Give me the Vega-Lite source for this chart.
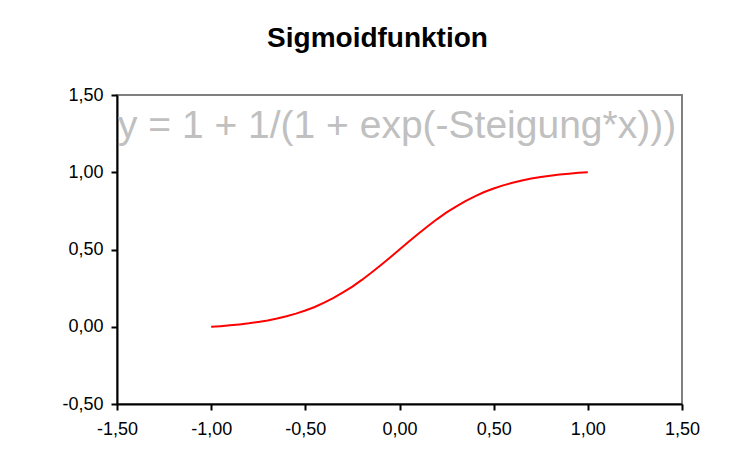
{
  "$schema": "https://vega.github.io/schema/vega-lite/v6.json",
  "width": 565,
  "height": 309,
  "autosize": {"type": "none"},
  "padding": {"left": 117, "top": 95, "right": 58, "bottom": 72},
  "background": "white",
  "config": {
    "locale": {"number": {"decimal": ",", "thousands": ".", "grouping": [3], "currency": ["", " €"], "minus": "-"}},
    "view": {"stroke": "#808080", "strokeWidth": 2},
    "font": "Liberation Sans"
  },
  "title": {
    "text": "Sigmoidfunktion",
    "anchor": "middle",
    "frame": "group",
    "dx": -22,
    "offset": 33,
    "fontSize": 28,
    "fontWeight": "bold",
    "font": "Liberation Sans",
    "color": "black"
  },
  "layer": [
    {
      "data": {"values": [
        {"x": -1.0, "y": 0.0},
        {"x": -0.95, "y": 0.004},
        {"x": -0.9, "y": 0.009},
        {"x": -0.85, "y": 0.015},
        {"x": -0.8, "y": 0.022},
        {"x": -0.75, "y": 0.031},
        {"x": -0.7, "y": 0.041},
        {"x": -0.65, "y": 0.053},
        {"x": -0.6, "y": 0.068},
        {"x": -0.55, "y": 0.085},
        {"x": -0.5, "y": 0.105},
        {"x": -0.45, "y": 0.128},
        {"x": -0.4, "y": 0.156},
        {"x": -0.35, "y": 0.187},
        {"x": -0.3, "y": 0.222},
        {"x": -0.25, "y": 0.260},
        {"x": -0.2, "y": 0.303},
        {"x": -0.15, "y": 0.349},
        {"x": -0.1, "y": 0.398},
        {"x": -0.05, "y": 0.448},
        {"x": 0.0, "y": 0.5},
        {"x": 0.05, "y": 0.552},
        {"x": 0.1, "y": 0.602},
        {"x": 0.15, "y": 0.651},
        {"x": 0.2, "y": 0.697},
        {"x": 0.25, "y": 0.740},
        {"x": 0.3, "y": 0.778},
        {"x": 0.35, "y": 0.813},
        {"x": 0.4, "y": 0.844},
        {"x": 0.45, "y": 0.872},
        {"x": 0.5, "y": 0.895},
        {"x": 0.55, "y": 0.915},
        {"x": 0.6, "y": 0.932},
        {"x": 0.65, "y": 0.947},
        {"x": 0.7, "y": 0.959},
        {"x": 0.75, "y": 0.969},
        {"x": 0.8, "y": 0.978},
        {"x": 0.85, "y": 0.985},
        {"x": 0.9, "y": 0.991},
        {"x": 0.95, "y": 0.996},
        {"x": 1.0, "y": 1.0}
      ]},
      "mark": {"type": "line", "color": "#ff0000", "strokeWidth": 2},
      "encoding": {
        "x": {
          "field": "x", "type": "quantitative",
          "scale": {"domain": [-1.5, 1.5], "nice": false, "zero": false},
          "axis": {
            "title": null, "values": [-1.5, -1, -0.5, 0, 0.5, 1, 1.5], "format": ".2f",
            "grid": false, "domainColor": "black", "domainWidth": 2, "tickColor": "black", "tickWidth": 2, "tickSize": 6,
            "labelFontSize": 18, "labelColor": "black", "labelPadding": 10, "labelFont": "Liberation Sans",
            "labelFlush": false, "labelOverlap": false
          }
        },
        "y": {
          "field": "y", "type": "quantitative",
          "scale": {"domain": [-0.5, 1.5], "nice": false, "zero": false},
          "axis": {
            "title": null, "values": [-0.5, 0, 0.5, 1, 1.5], "format": ".2f",
            "grid": false, "domainColor": "black", "domainWidth": 2, "tickColor": "black", "tickWidth": 2, "tickSize": 6,
            "labelFontSize": 18, "labelColor": "black", "labelPadding": 8, "labelFont": "Liberation Sans",
            "labelFlush": false, "labelOverlap": false
          }
        }
      }
    },
    {
      "data": {"values": [{"label": "y = 1 + 1/(1 + exp(-Steigung*x)))"}]},
      "mark": {"type": "text", "align": "left", "baseline": "alphabetic", "dx": 1, "dy": 43, "fontSize": 39, "color": "#c0c0c0", "font": "Liberation Sans"},
      "encoding": {
        "x": {"datum": -1.5, "type": "quantitative"},
        "y": {"datum": 1.5, "type": "quantitative"},
        "text": {"field": "label"}
      }
    }
  ]
}
